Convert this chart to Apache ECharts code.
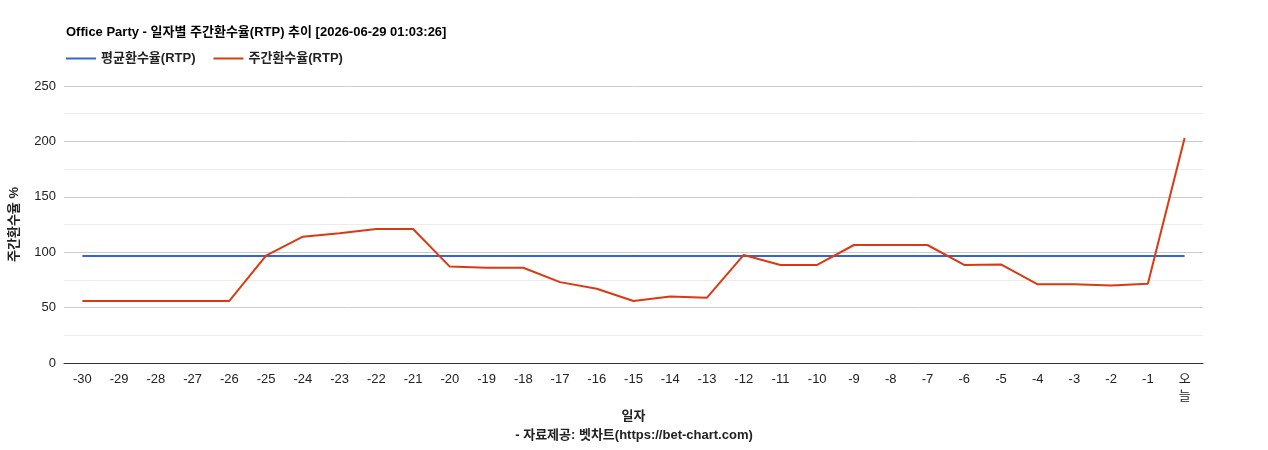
<!DOCTYPE html>
<html>
<head>
<meta charset="utf-8">
<script src="https://cdn.jsdelivr.net/npm/echarts@6/dist/echarts.min.js"></script>
<style>html,body{margin:0;padding:0;background:#fff}#chart{width:1268px;height:450px}</style>
</head>
<body>
<div id="chart"></div>
<script>
// 일자 라벨
const days = ['-30','-29','-28','-27','-26','-25','-24','-23','-22','-21','-20','-19','-18','-17','-16','-15','-14','-13','-12','-11','-10','-9','-8','-7','-6','-5','-4','-3','-2','-1','오\n늘'];
const weeklyRtp = [56,56,56,56,56,97,114,117,121,121,87,86,86,73,67,56,60,59,97.5,88.5,88.5,106.5,106.5,106.5,88.5,89,71,71,70,71.5,203];
const avgRtp = days.map(function() { return 96.6; });

const chart = echarts.init(document.getElementById('chart'));
const font = '"Liberation Sans", Arial, "Noto Sans CJK KR", sans-serif';

const option = {
    animation: false,
    textStyle: {fontFamily: font},
    title: {
        text: 'Office Party - 일자별 주간환수율(RTP) 추이 [2026-06-29 01:03:26]',
        left: 61,
        top: 21,
        textStyle: {fontSize: 13, fontWeight: 'bold', color: '#000', fontFamily: font}
    },
    legend: {
        left: 61,
        top: 47,
        itemWidth: 30,
        itemHeight: 2,
        icon: 'rect',
        itemGap: 18,
        textStyle: {fontSize: 13, fontWeight: 'bold', color: '#222', fontFamily: font},
        data: ['평균환수율(RTP)', '주간환수율(RTP)']
    },
    grid: {left: 63, right: 65, top: 86, bottom: 87},
    xAxis: {
        type: 'category',
        data: days,
        boundaryGap: true,
        name: '일자',
        nameLocation: 'middle',
        nameGap: 45,
        nameTextStyle: {fontSize: 13, fontWeight: 'bold', color: '#222', fontFamily: font},
        axisLine: {lineStyle: {color: '#333'}},
        axisTick: {show: false},
        axisLabel: {interval: 0, fontSize: 13, color: '#222', margin: 8, lineHeight: 17, fontFamily: font}
    },
    yAxis: {
        type: 'value',
        min: 0,
        max: 250,
        interval: 50,
        name: '주간환수율 %',
        nameLocation: 'middle',
        nameGap: 43,
        nameTextStyle: {fontSize: 13, fontWeight: 'bold', color: '#222', fontFamily: font},
        axisLine: {show: false},
        axisTick: {show: false},
        axisLabel: {fontSize: 13, color: '#222', fontFamily: font},
        splitLine: {lineStyle: {color: '#ccc'}},
        minorTick: {show: false, splitNumber: 2},
        minorSplitLine: {show: true, lineStyle: {color: '#ececec'}}
    },
    graphic: [{
        type: 'text',
        left: 'center',
        top: 429,
        style: {text: '- 자료제공: 벳차트(https://bet-chart.com)', fill: '#222', font: 'bold 13px ' + font}
    }],
    series: [
        {
            name: '평균환수율(RTP)',
            type: 'line',
            data: avgRtp,
            symbol: 'none',
            lineStyle: {color: '#3366cc', width: 2},
            itemStyle: {color: '#3366cc'}
        },
        {
            name: '주간환수율(RTP)',
            type: 'line',
            data: weeklyRtp,
            symbol: 'none',
            lineStyle: {color: '#dc3912', width: 2},
            itemStyle: {color: '#dc3912'}
        }
    ]
};

chart.setOption(option);
</script>
</body>
</html>
